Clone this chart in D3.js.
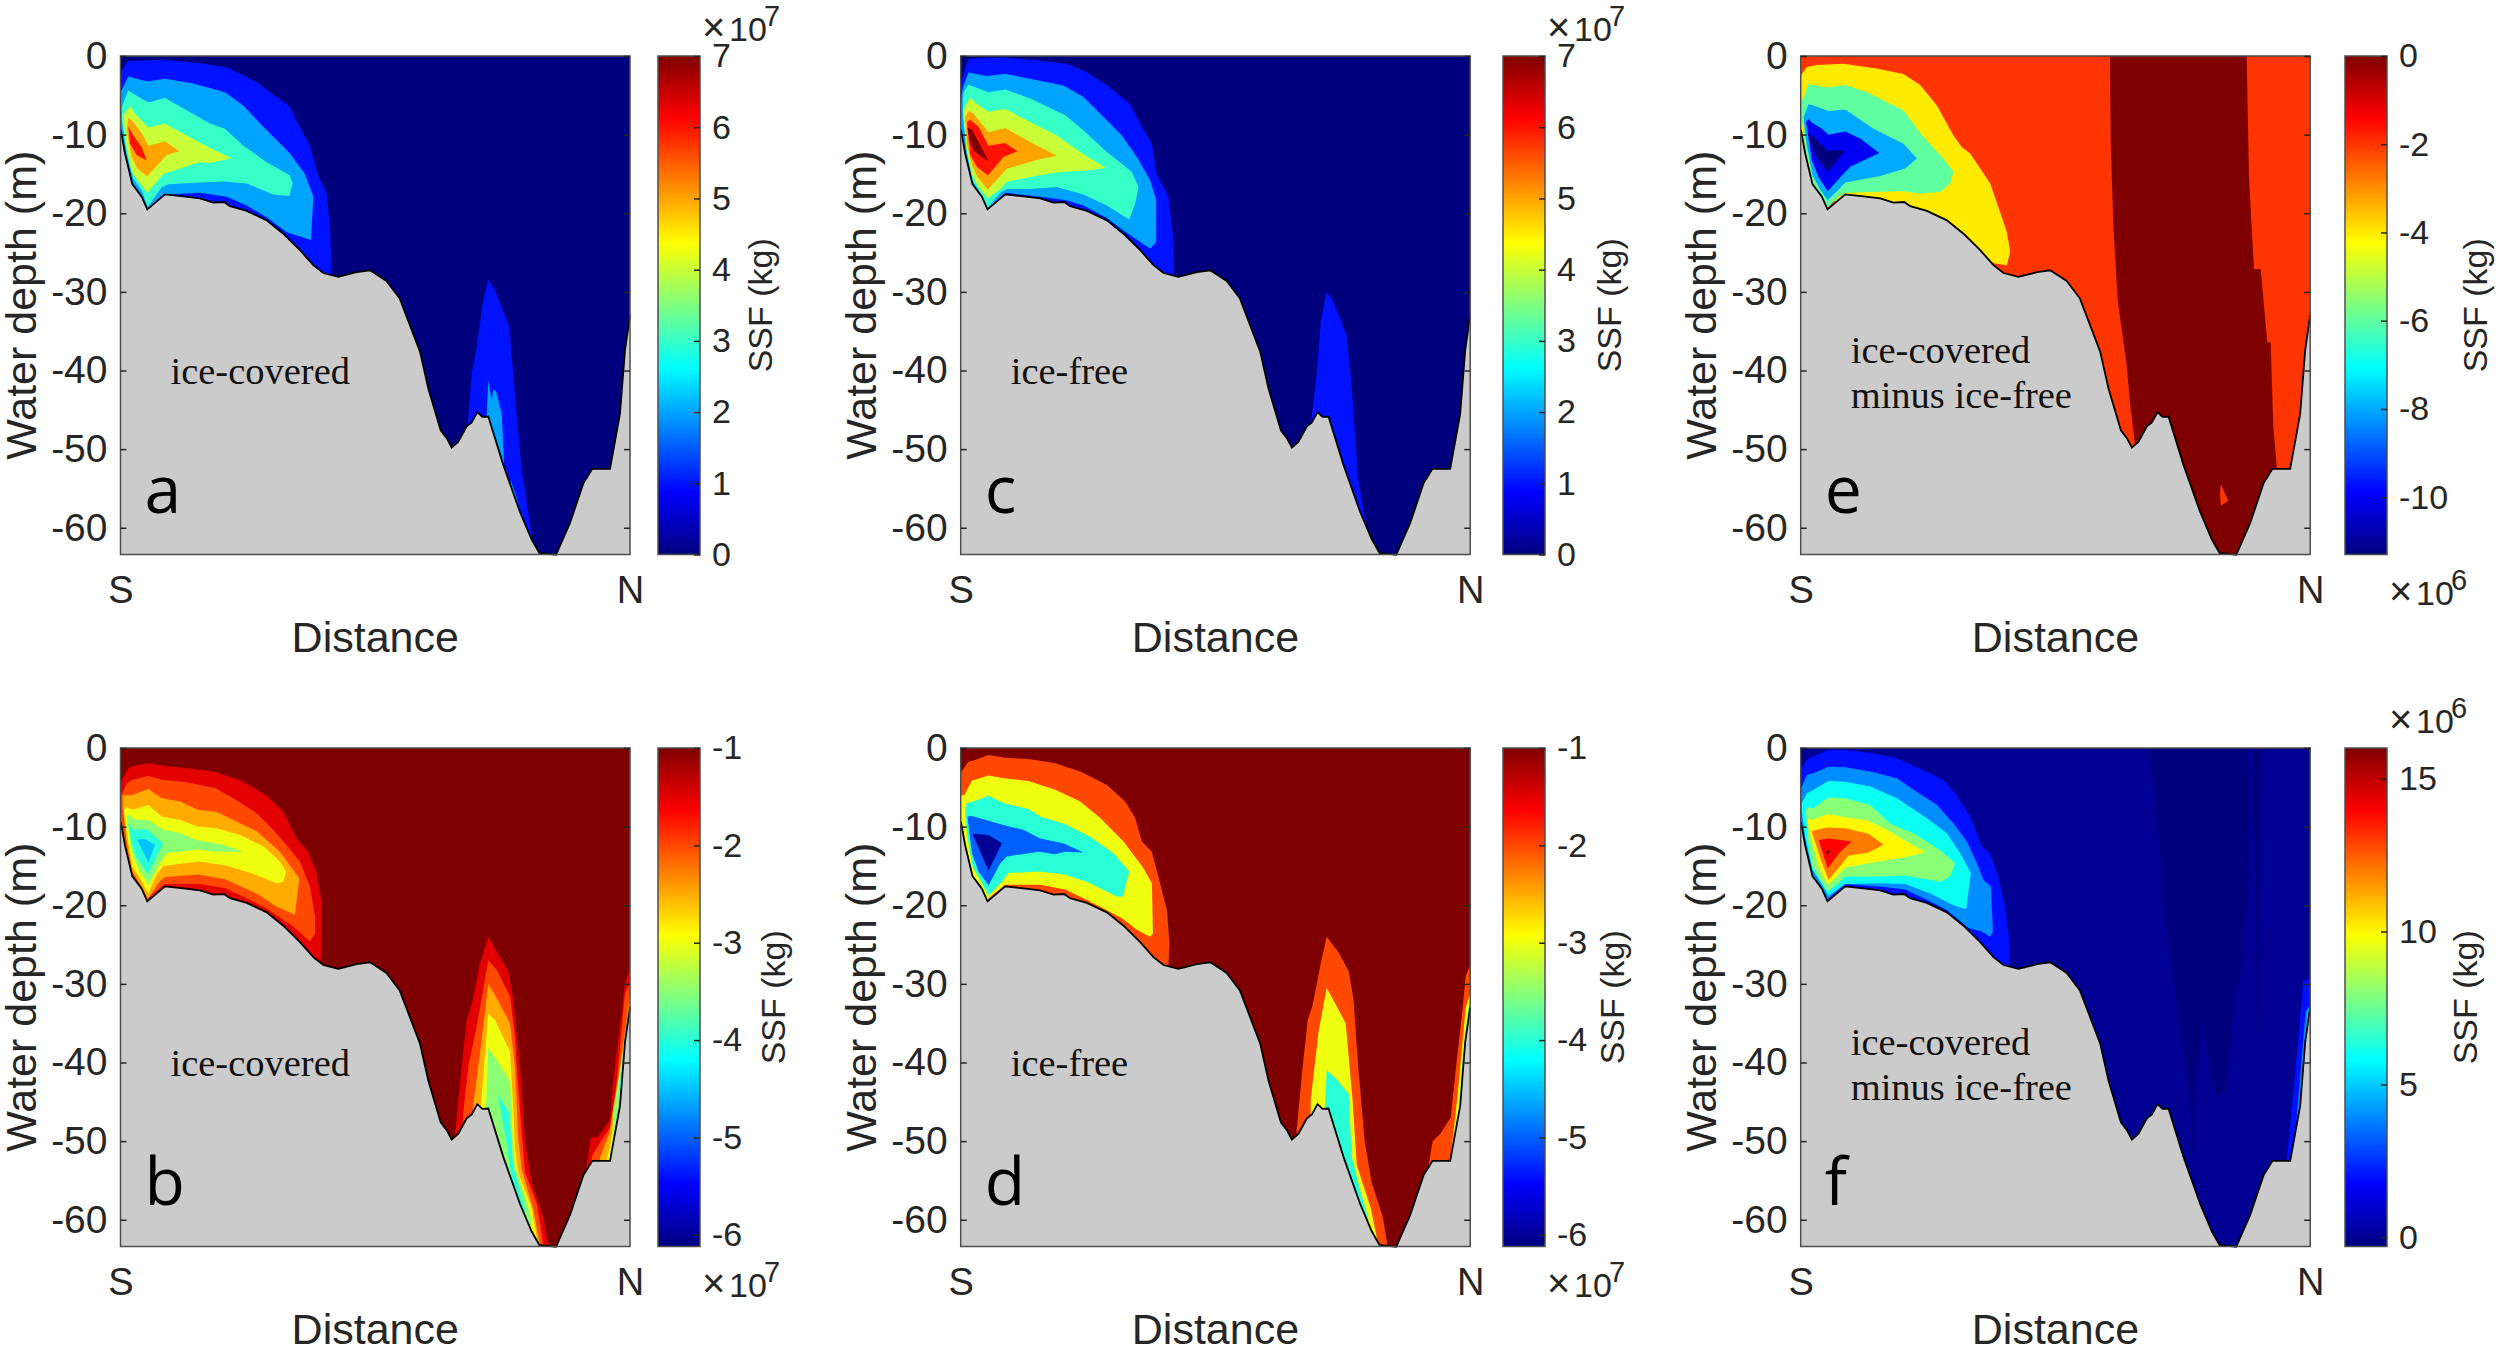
<!DOCTYPE html>
<html>
<head>
<meta charset="utf-8">
<script src="https://cdnjs.cloudflare.com/ajax/libs/d3/7.8.5/d3.min.js"></script>
<style>
  html, body { margin: 0; padding: 0; background: #fff; }
  text { font-family: "Liberation Sans", Arial, sans-serif; fill: #262626; }
</style>
</head>
<body>
<div id="main"></div>
<script>
// seabed profile, distance along the section and depth below surface (m)
const seabedDistance = [0.2,4.5,11.8,21.2,26.8,44.5,62.8,79.5,92.8,103.5,109.5,126.2,146.2,162.8,179.5,192.8,202.8,217.8,236.2,249.5,258.8,266,279.3,299.5,307.8,320.2,326.2,331.2,337.8,346.2,351.2,356.8,361.8,367.8,382.8,399.5,411.2,418.8,435.5,449.5,462.8,471.8,489.5,499.5,504.5,509.5];
const seabedDepth = [9.37,12.4,16.3,17.9,19.5,17.6,17.85,18.1,18.65,18.57,19.1,19.7,20.9,22.6,24.7,26.6,27.6,28.1,27.5,27.25,28,28.6,30.85,37.6,42.3,47.6,48.6,49.8,49.05,47.1,46.6,45.3,45.9,45.85,52,58,61.5,63.2,63.45,59.4,54.35,52.5,52.5,45.5,37.4,32.95];

const depthTicks = [0,-10,-20,-30,-40,-50,-60];
const endLabels = ["S","N"];

// SSF contour levels and the outlines of the regions above/below them: [distance, depth]
const levelsA = [1,1,2,2,2,3,4,5,6];
const shapesA = [
  [[0,2.04],[7.8,.64],[42.8,.47],[79.5,.9],[107.8,1.49],[136.2,3.3],[161.2,5.65],[169.5,6.5],[181.2,9.46],[189.5,11.4],[197.8,15.2],[206.2,17.5],[209.5,21.75],[211.2,27.7],[211.2,31],[0,31]],
  [[347.2,46.95],[351.2,40.4],[356.2,37],[362.2,31.5],[367.8,28.4],[374.5,29.8],[388.8,34.4],[392.8,40.4],[401.2,52.7],[411.2,60.7],[412.8,63.7],[400,64],[347,52]],
  [[0,4.6],[7.8,2.6],[22.8,3.1],[27.8,3.2],[44.5,2.9],[72.8,3.5],[104.5,4.6],[122.8,6.3],[141.2,8.8],[157.8,10.9],[169.5,12.4],[184.5,15],[192.8,17.9],[190.5,23.4],[166.2,22.4],[146.2,20.5],[126.2,19],[106.2,17.9],[79.5,17.4],[44.5,17.6],[44.5,18.5],[26.8,20.5],[0,15]],
  [[366.2,45.7],[367.8,41.2],[371.2,43.8],[372.8,42.4],[375.5,42.6],[381.2,45.5],[383.5,51.8],[383.5,52.5],[380,52],[366,46.5]],
  [[390.2,54],[395.2,55.8],[401.2,58.6],[398,60],[388,57]],
  [[1.2,6.5],[7.8,4.4],[12.8,4.8],[27.8,5.9],[44.5,5.35],[66.2,6.9],[89.5,8.6],[104.5,9.25],[122.8,11.4],[146.2,13.5],[169.5,15.2],[172.2,16.2],[168.8,17.8],[152.8,17.6],[126.2,16.2],[104.5,15.95],[79.5,16.1],[47.8,16.3],[41.2,16.7],[27.2,19.2],[21.2,17.1],[12.8,15.6],[6.2,12.4],[1.2,8.2]],
  [[9.5,6.4],[14.5,7.3],[27.8,9.1],[44.5,8.6],[66.2,10.1],[91.2,11.8],[111.2,13],[89.5,13.6],[79.5,13.5],[42.8,15],[26.8,17.4],[19.5,16.2],[11.2,14.75],[5.5,11.2],[2.8,7.55]],
  [[7.8,7.85],[12.8,8.4],[22.8,10.1],[27.8,11.4],[44.5,10.85],[58.8,12.1],[46.2,12.6],[26.8,15.3],[16.8,14.3],[11.2,12.85],[6.2,9.45]],
  [[7.8,9],[12.8,10.1],[21.2,11.6],[26.2,13.3],[16.2,12.6],[9.5,11.15]]
];

const levelsB = [-1.5,-1.5,-1.5,-2,-2,-2,-2.5,-2.5,-2.5,-3,-3,-3,-3.5,-3.5,-3.5,-4,-4,-4,-4.5,-4.5];
const shapesB = [
  [[0,4.3],[7.8,2.6],[12.8,2.3],[27.8,1.95],[42.8,2.25],[69.5,2.6],[92.8,3],[119.5,4.07],[146.2,6],[162.8,8.1],[176.2,11.5],[187.8,13.2],[196.2,15.9],[201.2,19.75],[201.2,24],[200.2,27],[200,30],[0,30]],
  [[334.5,49.2],[341.2,40.5],[346.2,34.6],[351.2,32.7],[359.5,27.4],[367.8,24],[387.8,28.4],[392.8,32],[399.5,40.5],[404.5,49.8],[411.2,55.3],[422.8,59.6],[427.8,63.4],[427.8,64.6],[410,66],[334,55]],
  [[466.2,53.2],[470.2,49.6],[477.8,49.4],[489.5,47.3],[492.8,42.2],[501.2,33.7],[504.5,29.9],[508.8,28.3],[510,28.3],[510,60],[466,60]],
  [[0,6],[1,6],[6.2,4.5],[11.2,4.07],[27.8,3.56],[42.8,4.07],[62.8,4.28],[79.5,4.7],[94.5,5.1],[112.8,6.4],[136.2,8.3],[152.8,10.4],[164.5,12.1],[179.5,14.45],[189.5,17.6],[194.5,21.4],[194.5,23.6],[189.5,24.6],[172.8,22.7],[146.2,20.4],[126.2,19.1],[104.5,17.85],[79.5,17.3],[44.5,17.3],[27.8,19.1],[26,21],[0,14]],
  [[342.8,46.4],[347.8,40.5],[356.2,35.4],[367.8,27],[376.2,28.2],[389.5,31.6],[394.5,36.7],[396.2,40.5],[401.2,49],[404.5,54],[416.2,57.9],[422.8,63],[422,66],[342,60]],
  [[471.2,52],[479.5,50.2],[489.5,48.3],[496.2,42.6],[504.5,31.2],[509.5,29.9],[510,33.7],[510,60],[471,60]],
  [[2.2,6],[11.2,6],[27.8,5.2],[41.2,6.4],[59.5,6.8],[77.8,7.9],[96.2,8.1],[112.8,9.15],[136.2,10.6],[159.5,13.2],[178.8,16.6],[174.5,21.2],[156.2,20.2],[136.2,18.5],[104.5,16.7],[77.8,16.1],[44.5,16.4],[37.8,17.2],[27.2,19.2],[21.2,17.6],[11.8,15.7],[6.2,12.1],[2.2,7.5]],
  [[352.8,45.2],[359.5,38.8],[367.8,30],[374.5,31.4],[389.5,35],[394.5,40.5],[397.8,49.8],[401.2,53.6],[412.8,58.7],[419.5,63.2],[415,66],[352,60]],
  [[479.5,52.1],[488.8,49],[499.5,40.5],[509.5,31.4],[510,60],[479,60]],
  [[3.5,7.9],[6.2,7.5],[11.2,7.9],[27.8,7.25],[41.2,8.7],[59.5,9.15],[77.8,10],[96.2,10.2],[119.5,11.06],[142.8,12.5],[159.5,14.45],[165.5,15.7],[162.8,17],[156.2,17.2],[132.8,16],[104.5,14.9],[77.8,14.45],[42.8,15],[36.2,16.1],[27.8,18.5],[19.5,16.6],[11.8,15.1],[5.5,10.4]],
  [[360.2,45.6],[367.8,33.8],[374.5,34.6],[389.5,38.6],[392.2,44.3],[394.5,50.7],[397.8,54],[411.2,58.5],[417.2,63],[410,66],[360,60]],
  [[486.2,52.3],[489.5,50.7],[501.2,40.1],[509.5,32.4],[510,60],[486,60]],
  [[6.2,8.7],[9.5,8.5],[12.8,9.07],[27.8,9.15],[42.8,10.4],[59.5,10.8],[76.2,11.7],[102.8,12.3],[122.8,13.2],[94.5,13.2],[77.8,12.9],[46.2,13.4],[39.5,14.7],[27.8,17.4],[17.8,15.3],[11.2,13.2]],
  [[365.5,45.6],[367.8,38.2],[376.2,39.65],[389.5,42.4],[391.2,46.4],[392.8,52.4],[397.8,54.5],[407.8,58.3],[411.2,60.4],[400,64],[360,55]],
  [[492.8,46.4],[509.5,33.1],[510,60],[490,60]],
  [[7.8,9.6],[12.8,10.4],[26.2,10.3],[42.8,12.1],[27.8,16.1],[16.2,14],[11.2,12.3]],
  [[377.2,44.1],[388.8,46.4],[392.8,53.2],[404.5,58.7],[400,61],[391,54.6],[385.5,49.8]],
  [[499.5,42.2],[509.5,33.5],[510,60],[495,60]],
  [[16.8,11.6],[24.5,11.6],[34.5,12.3],[27.8,14.6]],
  [[503.5,38],[509.5,33.7],[510,60],[500,60]]
];

const levelsC = [1,1,2,3,4,5,6,7];
const shapesC = [
  [[0,3.5],[7.8,.35],[42.8,.2],[79.5,.56],[106.2,1],[122.8,1.83],[146.2,3.7],[169.5,6.1],[179.5,8.6],[191.2,11.15],[196.2,14.97],[207.8,17.9],[212.8,23.4],[213.5,28.1],[213,32],[0,32]],
  [[349.6,47.5],[356,40.5],[360,34],[365.6,30],[372,31],[386,35.5],[391,42],[397.4,53.7],[407,60.8],[410,63.7],[400,64],[350,52]],
  [[0,5.9],[2.2,3.95],[7.8,2.1],[26.2,2.55],[44.5,2.25],[72.8,3],[102.8,3.75],[122.8,5.2],[142.8,7.75],[161.2,10.1],[176.2,12.85],[189.5,15.8],[195.5,18.35],[195.5,23.65],[189.5,24.5],[179.5,23.65],[162.8,22.2],[146.2,20.6],[122.8,19],[104.5,18.3],[79.5,17.9],[44.5,17.4],[27.8,19.4],[26,21],[0,14]],
  [[2.2,5.65],[2.8,4.6],[7.8,3.65],[27.8,4.6],[44.5,4.25],[69.5,5.4],[104.5,7.55],[122.8,9.46],[146.2,12.2],[171.2,14.75],[177.8,16.65],[174.5,18.8],[168.5,20.8],[146.2,19],[122.8,17.6],[96.2,16.65],[67.8,16.9],[46.2,16.9],[39.5,17.4],[27.2,19.3],[19.5,17.5],[11.8,15.8],[6.2,12.4],[2.2,7.8]],
  [[2.8,6.9],[8.8,5.3],[16.2,6.06],[27.8,7.1],[44.5,6.7],[69.5,8.4],[96.2,10.1],[119.5,12.2],[145.2,14.25],[126.2,14.55],[99.5,14.75],[77.8,15.2],[46.2,16],[39.5,16.9],[27.2,18.1],[17.8,16.7],[11.2,15],[5.5,11.6]],
  [[4.5,7.8],[7.8,7],[12.8,7.3],[27.8,9.7],[44.5,9.15],[69.5,10.95],[96.2,12.7],[77.8,13.15],[46.2,14.35],[27.2,17],[16.8,15.4],[11.2,13.9],[6.2,11.15]],
  [[6.2,8.4],[9.5,8.1],[17.8,9],[27.8,11.4],[44.5,11.07],[56.8,12.1],[42.8,12.85],[27.2,15.2],[16.2,14.1],[9.5,12.6]],
  [[6.8,9.1],[11.2,9.35],[17.8,10.9],[27.8,13.35],[21.2,12.85],[12.8,12],[8.8,10.7]]
];

const levelsD = [-2,-2,-2,-3,-3,-3,-4,-4,-4,-5,-5,-6];
const shapesD = [
  [[0,3],[1,3],[7.8,1.74],[12.8,1.6],[27.8,.9],[42.8,1.2],[69.5,1.44],[94.5,1.95],[119.5,3],[146.2,4.7],[164.5,6.8],[174.5,8.9],[181.2,11.9],[191.2,13.2],[197.8,16.4],[206.2,20.6],[208.8,24.8],[207.8,27.6],[207,32],[0,32]],
  [[336,48.5],[342,40.5],[347,34.6],[352,32.7],[360,27.4],[366,24],[378,26],[388,28.4],[392.8,32],[397.5,40.5],[404,50],[411,55.3],[422,59.6],[427,63.4],[410,66],[336,55]],
  [[468,53],[472,50],[480,49],[490,47],[495,41],[502,33],[505,29],[510,27.5],[510,60],[468,60]],
  [[0,6],[3.5,6],[11.2,4.15],[27.8,3.5],[42.8,3.85],[67.8,4.2],[94.5,5.3],[119.5,6.8],[139.5,8.9],[162.8,11.9],[182.8,15.3],[191.2,17.2],[192.2,23.6],[189.5,24],[176.2,23.1],[161.2,21.65],[139.5,20.2],[122.8,19.1],[104.5,18],[79.5,17.4],[44.5,17.4],[27.8,19.1],[26,21],[0,14]],
  [[350,44.7],[358,36],[366,30.5],[385,35],[392,45],[396,53],[410,58.5],[418,63.4],[410,66],[350,55]],
  [[490,52],[497,44],[505,33],[510,31],[510,60],[490,60]],
  [[4.5,7.9],[6.2,7],[12.8,6.8],[27.8,6.06],[42.8,7],[67.8,7.75],[79.5,8.7],[102.8,9.6],[129.5,11.3],[152.8,13.4],[168.5,15.7],[162.2,18.9],[156.2,18.9],[126.2,17],[102.8,16.06],[77.8,15.7],[47.8,15.9],[41.2,17],[27.8,18.8],[19.5,16.8],[11.8,15.1],[6.2,10.85]],
  [[366,41],[375,42],[388,44],[391,52],[400,56.5],[408,60],[395,62],[366,50],[364,46]],
  [[500,42],[508,33],[510,32],[510,60],[500,60]],
  [[6.8,8.7],[11.2,8.65],[22.8,9.07],[42.8,9.8],[62.8,10.4],[79.5,11.5],[102.8,12.1],[122.8,13.3],[104.5,13.2],[94.5,13.5],[77.8,13.2],[46.2,13.8],[39.5,14.7],[27.8,17.5],[17.8,15.7],[11.2,13.4]],
  [[503,39],[510,32.5],[510,60],[503,60]],
  [[11.8,10.9],[27.8,11.06],[41.2,12.1],[27.8,15.6]]
];

const levelsE = [0,-2,-4,-6,-8,-10,-11.3];
const shapesE = [
  [[309.3,0],[310,10.66],[312.6,21.4],[317,31.05],[326,39.35],[329.3,44.2],[334.3,49.3],[334,70],[476,70],[476,52.2],[472.6,47.1],[470,36.4],[466.6,36.4],[460,27.1],[453.3,27.1],[448.3,15.5],[446,0]],
  [[420,54.4],[427.6,56.6],[420.3,57.2],[419.3,55.8]],
  [[0,2.5],[6,1.4],[16,1.15],[42.8,1],[76,1.6],[102.8,2.3],[119.5,3.7],[136.2,6.3],[152.8,10.1],[161.2,11.6],[169.5,12.4],[189.5,16.2],[201.2,20.5],[206.2,22.4],[209.5,24.9],[206.2,26.6],[194.5,26.4],[187.8,26],[190,30],[0,16]],
  [[0,5.9],[2.8,5.2],[7.8,3.6],[26.2,4],[44.5,3.7],[66.2,4.6],[102.8,6.9],[122.8,10.3],[142.8,13.05],[152.8,14.75],[149.5,16.2],[139.5,17.3],[119.5,17.5],[102.8,17.2],[69.5,17.3],[44.5,17.4],[37.8,17.9],[27,19.3],[19.5,17.7],[11.8,15.9],[4.3,11.6],[1,7.8]],
  [[2.8,7.8],[7.8,6.15],[12.8,6.3],[27.8,7],[44.5,6.8],[72.8,9.25],[102.8,11.15],[116.2,13.05],[104.5,14.3],[79.5,15.25],[44.5,16.1],[37.8,17],[27,18.35],[19.5,17],[11.8,15.2],[5.3,10.75]],
  [[5.3,8.4],[7.8,8],[11.2,8.5],[21.2,9.25],[27.8,10],[44.5,9.6],[59.5,10.5],[78.5,12.35],[49.5,14.1],[41.2,15.2],[27,17.2],[17.8,15.4],[11.2,13.3]],
  [[7.8,9.67],[17.8,10.9],[26.2,12],[44.5,12],[27,14.8],[16.2,12.85],[10,11.15]]
];

const levelsF = [-0.3,-0.3,2,2,4,4,6,6,8,10,12,14,16];
const shapesF = [
  [[347.6,0],[447.6,0],[449.3,15.9],[439.3,29.4],[434.3,31],[426,43.4],[416,44.5],[409.3,40.8],[402.6,34],[392.6,46],[392.6,53.2],[389.3,44.5],[372.6,28.9],[364.3,21],[354,5]],
  [[452,0],[461.6,0],[459,20],[458,38],[455,20]],
  [[0,2.6],[7.8,1.3],[27.8,.25],[42.8,.25],[69.5,.6],[96.2,1.3],[119.5,2.6],[142.8,4.07],[156.2,6],[169.5,8.7],[181.2,12.5],[189.5,13.4],[197.8,16.4],[204.5,20.2],[208.8,24.4],[208.8,27.6],[208,32],[0,32]],
  [[486,52.5],[496,39.3],[502.6,29.6],[510,29.4],[510,60],[486,60]],
  [[0,5.25],[6.2,3.4],[12.8,3.2],[27.8,2.4],[44.5,2.46],[69.5,3],[96.2,3.85],[112.8,5.3],[136.2,7.25],[152.8,9.6],[166.2,11.9],[176.2,14.66],[182.8,16.8],[190.2,17.6],[192.2,23.35],[189.5,24],[181.2,23.35],[167.8,22.9],[146.2,20.6],[126.2,19.3],[104.5,18],[79.5,17.6],[44.5,17.3],[27.8,19.1],[26,21],[0,14]],
  [[496,47],[505,33.5],[508.6,32.8],[510,60],[497,60]],
  [[1,7],[6.2,5.76],[12.8,5.3],[27.8,4.2],[44.5,4.3],[69.5,4.9],[96.2,6.4],[126.2,8.94],[146.2,10.85],[159.5,13.4],[170.2,15.9],[165.5,20.5],[152.8,20],[129.5,18.5],[104.5,17.3],[79.5,17.2],[44.5,17.3],[27.8,18.8],[19.5,17],[11.8,15.5],[4.3,11.3],[1,7.9]],
  [[501,41.8],[507.6,33.2],[510,60],[501,60]],
  [[5.3,7.9],[9.3,7.5],[12.8,7.67],[27.8,6.27],[44.5,6.4],[69.5,7.25],[89.5,9.6],[112.8,10.85],[139.5,13],[154.5,14.66],[149.5,16.35],[139.5,17],[104.5,16.2],[77.8,16.35],[44.5,16.35],[37.8,17.2],[27,18.26],[19.5,16.8],[11.8,15.1],[6.6,11.3]],
  [[6,8.94],[11,9.15],[27.8,8.4],[44.5,8.8],[66,9.15],[86,10.4],[106,11.9],[124.5,13.26],[103,13.94],[77.8,14.45],[44.5,15.2],[36,16.35],[27,17.4],[17.8,15.1],[10,11.3]],
  [[11,10.6],[19.3,10.3],[27.8,10.1],[44.5,10.2],[67.8,10.9],[82.8,12.3],[67.8,13.3],[47.8,13.7],[27.8,16.8],[19.5,14]],
  [[17.8,11.7],[27.8,11.5],[51,11.9],[39.5,13.2],[27,15.3]],
  [[25,13.2],[29.5,12.9],[27,13.7]]
];

const panelIds = ["a","b","c","d","e","f"];
const panelNotes = [["ice-covered"],["ice-covered"],["ice-free"],["ice-free"],["ice-covered","minus ice-free"],["ice-covered","minus ice-free"]];
const backgroundLevels = [0,-1,0,-1,-2,0];
const allLevels = [levelsA,levelsB,levelsC,levelsD,levelsE,levelsF];
const allShapes = [shapesA,shapesB,shapesC,shapesD,shapesE,shapesF];
const colorDomains = [[0,7],[-6.12,-1],[0,7],[-6.12,-1],[-11.3,0],[-0.3,16]];
const colorTicks = [[0,1,2,3,4,5,6,7],[-1,-2,-3,-4,-5,-6],[0,1,2,3,4,5,6,7],[-1,-2,-3,-4,-5,-6],[0,-2,-4,-6,-8,-10],[0,5,10,15]];
const exponents = ["7","7","7","7","6","6"];
const exponentOnTop = [true,false,true,false,false,true];

const panelWidth = 509.5, panelHeight = 498.5, barWidth = 42;
const panelLeft = [120.5,120.5,960.7,960.7,1800.7,1800.7];
const panelTop = [56,748,56,748,56,748];
const barLeft = [658,658,1503,1503,2345,2345];
const ssfX = [772,785,1621,1624,2487,2477];

const jetStops = [0,.125,.375,.625,.875,1];
const jetColors = ["#00007f","#0000ff","#00ffff","#ffff00","#ff0000","#7f0000"];
const jet = d3.scaleLinear().domain(jetStops).range(jetColors);

const svg = d3.select("#main").append("svg")
  .attr("width", 2500).attr("height", 1351)
  .style("display", "block");

const defs = svg.append("defs");
const grad = defs.append("linearGradient").attr("id", "jetbar")
  .attr("x1", 0).attr("y1", 1).attr("x2", 0).attr("y2", 0);
jetStops.forEach((s, i) => grad.append("stop").attr("offset", s).attr("stop-color", jetColors[i]));

const x = d3.scaleLinear().domain([0, 509.5]).range([0, panelWidth]);
const y = d3.scaleLinear().domain([0, -63.4]).range([0, panelHeight]);
const outline = d3.line().x(d => x(d[0])).y(d => y(-d[1]));

const seabed = seabedDistance.map((d, i) => [d, seabedDepth[i]]);

function styleAxis(g, size) {
  g.select(".domain").remove();
  g.selectAll("line").attr("stroke", "#262626").attr("stroke-width", 1.5);
  g.selectAll("text").attr("font-size", size).style("font-family", '"Liberation Sans", Arial, sans-serif').attr("fill", "#262626");
}

panelIds.forEach((id, p) => {
  const g = svg.append("g").attr("transform", `translate(${panelLeft[p]},${panelTop[p]})`);
  const clipId = "clip-" + id;
  defs.append("clipPath").attr("id", clipId).append("rect").attr("width", panelWidth).attr("height", panelHeight);

  const color = d3.scaleLinear().domain(colorDomains[p]).range([0, 1]);
  const fill = v => jet(color(v));

  const plot = g.append("g").attr("clip-path", `url(#${clipId})`);
  plot.append("rect").attr("width", panelWidth).attr("height", panelHeight).attr("fill", fill(backgroundLevels[p]));

  plot.selectAll("path.band").data(allShapes[p]).enter().append("path")
    .attr("class", "band")
    .attr("d", d => outline(d) + "Z")
    .attr("fill", (d, i) => fill(allLevels[p][i]));

  // seabed goes over the contours
  const ground = [[0, 70], ...seabed, [509.5, 70]];
  plot.append("path").attr("d", outline(ground) + "Z").attr("fill", "#cbcbcb");

  g.append("path").attr("d", outline(seabed)).attr("fill", "none").attr("stroke", "#000").attr("stroke-width", 1.8);

  g.append("rect").attr("width", panelWidth).attr("height", panelHeight)
    .attr("fill", "none").attr("stroke", "#4d4d4d").attr("stroke-width", 1.5);

  g.append("g").call(d3.axisLeft(y).tickValues(depthTicks).tickSize(-6).tickPadding(13).tickFormat(String))
    .call(a => styleAxis(a, 39));
  g.append("g").attr("transform", `translate(${panelWidth},0)`)
    .call(d3.axisRight(y).tickValues(depthTicks).tickSize(-6).tickFormat(""))
    .call(a => styleAxis(a, 39));
  g.append("g").attr("transform", `translate(0,${panelHeight})`)
    .call(d3.axisBottom(x).tickValues(x.domain()).tickSize(0).tickPadding(22).tickFormat((d, i) => endLabels[i]))
    .call(a => styleAxis(a, 38));

  g.append("text").attr("x", panelWidth / 2).attr("y", panelHeight + 97)
    .attr("text-anchor", "middle").attr("font-size", 43).text("Distance");
  g.append("text").attr("transform", `translate(-84.5,${panelHeight / 2}) rotate(-90)`)
    .attr("text-anchor", "middle").attr("font-size", 43).text("Water depth (m)");

  // panel letter and the case label on the grey seabed
  g.append("text").attr("x", 24).attr("y", panelHeight - 42)
    .style("font-family", '"Open Sans", sans-serif').style("fill", "#000").attr("font-size", 66).text(id);
  const notes = panelNotes[p];
  notes.forEach((n, i) => {
    g.append("text").attr("x", 50).attr("y", (notes.length > 1 ? 307 : 328) + i * 45)
      .style("font-family", '"Liberation Serif", serif').style("fill", "#111").attr("font-size", 38.5).text(n);
  });

  // colorbar
  const bar = svg.append("g").attr("transform", `translate(${barLeft[p]},${panelTop[p]})`);
  const barScale = d3.scaleLinear().domain(colorDomains[p]).range([panelHeight, 0]);
  bar.append("rect").attr("width", barWidth).attr("height", panelHeight)
    .attr("fill", "url(#jetbar)").attr("stroke", "#4d4d4d").attr("stroke-width", 1.5);
  bar.append("g").attr("transform", `translate(${barWidth},0)`)
    .call(d3.axisRight(barScale).tickValues(colorTicks[p]).tickSize(-6).tickPadding(12).tickFormat(String))
    .call(a => styleAxis(a, 34));

  svg.append("text").attr("transform", `translate(${ssfX[p]},${panelTop[p] + panelHeight / 2}) rotate(-90)`)
    .attr("text-anchor", "middle").attr("font-size", 34).text("SSF (kg)");

  // multiplier of the colorbar
  const base = exponentOnTop[p] ? panelTop[p] - 15 : panelTop[p] + panelHeight + 50;
  const mult = svg.append("g").attr("transform", `translate(${barLeft[p]},${base})`);
  mult.append("text").attr("x", 44).attr("y", 0).attr("font-size", 40).text("×");
  mult.append("text").attr("x", 71).attr("y", 0).attr("font-size", 34).text("10");
  mult.append("text").attr("x", 106).attr("y", -15).attr("font-size", 29).text(exponents[p]);
});
</script>
</body>
</html>
